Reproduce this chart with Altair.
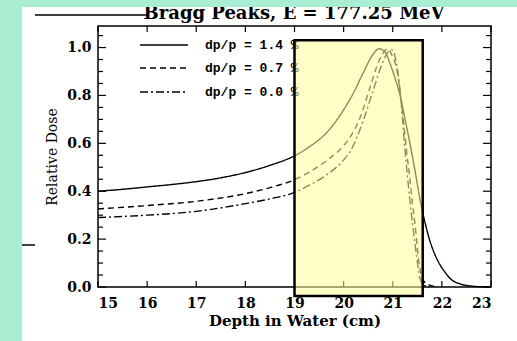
import altair as alt
import pandas as pd

# ---- data ----
x_solid = [15, 15.5, 16, 16.5, 17, 17.5, 18, 18.5, 19, 19.3, 19.7, 20.0, 20.2, 20.4, 20.6, 20.72,
           20.85, 20.95, 21.05, 21.15, 21.25, 21.35, 21.45, 21.56, 21.65, 21.76, 21.87, 21.97,
           22.07, 22.17, 22.37, 22.6, 22.8, 23]
y_solid = [0.40, 0.408, 0.418, 0.428, 0.44, 0.456, 0.478, 0.508, 0.548, 0.585, 0.655, 0.74, 0.81, 0.895, 0.972, 0.995,
           0.98, 0.93, 0.87, 0.80, 0.70, 0.60, 0.49, 0.36, 0.275, 0.19, 0.13, 0.09,
           0.06, 0.035, 0.013, 0.004, 0.001, 0.0]

x_dash = [15, 16, 17, 18, 18.5, 19, 19.3, 19.7, 20.0, 20.13, 20.34, 20.54, 20.71, 20.8, 20.89,
          20.98, 21.09, 21.16, 21.22, 21.28, 21.35, 21.40, 21.46, 21.52, 21.58, 21.65, 21.75, 21.9]
y_dash = [0.326, 0.34, 0.358, 0.39, 0.415, 0.448, 0.48, 0.535, 0.59, 0.625, 0.71, 0.835, 0.94, 0.975, 0.995,
          0.97, 0.90, 0.80, 0.69, 0.57, 0.45, 0.35, 0.25, 0.125, 0.05, 0.02, 0.008, 0.0]

x_dd = [15, 16, 17, 18, 18.5, 19, 19.3, 19.7, 20.0, 20.13, 20.4, 20.6, 20.78, 20.92, 20.99,
        21.06, 21.15, 21.25, 21.35, 21.46, 21.55, 21.62, 21.75]
y_dd = [0.29, 0.30, 0.316, 0.348, 0.368, 0.395, 0.425, 0.475, 0.53, 0.565, 0.695, 0.82, 0.93, 0.985, 0.99,
        0.95, 0.82, 0.57, 0.36, 0.17, 0.04, 0.01, 0.0]

series_names = ["dp/p = 1.4", "dp/p = 0.7", "dp/p = 0.0"]
legend_labels = ["dp/p = 1.4 %", "dp/p = 0.7 %", "dp/p = 0.0 %"]

x_ticks = [15, 16, 17, 18, 19, 20, 21, 22, 23]
y_major = [0.0, 0.2, 0.4, 0.6, 0.8, 1.0]
y_minor = [0.05, 0.1, 0.15, 0.25, 0.3, 0.35, 0.45, 0.5, 0.55, 0.65, 0.7, 0.75, 0.85, 0.9, 0.95, 1.05]

hl_x = [19.0, 21.61]
hl_y = [-0.038, 1.03]

title_text = "Bragg Peaks, E = 177.25 MeV"
x_title = "Depth in Water (cm)"
y_title = "Relative Dose"

W, H = 393, 261
XS = alt.Scale(domain=[15, 23], nice=False, zero=False)
YS = alt.Scale(domain=[0, 1.09], nice=False, zero=False)
SERIF = "DejaVu Serif"

XAX = alt.Axis(values=x_ticks, ticks=False, domain=False, grid=False, format="d",
               labelFont=SERIF, labelFontWeight="bold", labelFontSize=14, labelColor="black",
               labelPadding=9, titleFont=SERIF, titleFontWeight="bold", titleFontSize=15,
               titleColor="black", titlePadding=3)
YAX = alt.Axis(values=y_major, ticks=False, domain=False, grid=False, format=".1f",
               labelFont=SERIF, labelFontWeight="bold", labelFontSize=14, labelColor="black",
               labelPadding=7, titleFont=SERIF, titleFontWeight="normal", titleFontSize=14,
               titleColor="black", titlePadding=7)

rows = []
for name, xs, ys in [(series_names[0], x_solid, y_solid),
                     (series_names[1], x_dash, y_dash),
                     (series_names[2], x_dd, y_dd)]:
    for a, b in zip(xs, ys):
        rows.append({"series": name, "x": a, "y": b})
df = pd.DataFrame(rows)

lines = alt.Chart(df).mark_line(color="black", strokeWidth=1.4, interpolate="monotone").encode(
    x=alt.X("x:Q", scale=XS, title=x_title, axis=XAX),
    y=alt.Y("y:Q", scale=YS, title=y_title, axis=YAX),
    detail="series:N",
    strokeDash=alt.StrokeDash("series:N", scale=alt.Scale(domain=series_names,
                                                           range=[[1, 0], [6, 4], [8, 3, 2, 3]]),
                              legend=None),
)

one = pd.DataFrame({"a": [0]})
dashes = [[1, 0], [6, 4], [8, 3, 2, 3]]
legend_y = [19, 42, 66]
legend_layers = []
for lab, dsh, ly in zip(legend_labels, dashes, legend_y):
    legend_layers.append(alt.Chart(one).mark_rule(color="black", strokeWidth=1.3, strokeDash=dsh).encode(
        x=alt.value(42), x2=alt.value(90), y=alt.value(ly)))
    legend_layers.append(alt.Chart(one).mark_text(align="left", baseline="middle", font="Liberation Mono",
                                                  fontWeight="bold", fontSize=13, color="black").encode(
        x=alt.value(107), y=alt.value(ly), text=alt.value(lab)))

xt = pd.DataFrame({"t": x_ticks})
ymaj = pd.DataFrame({"t": y_major})
ymin = pd.DataFrame({"t": y_minor})


def xenc():
    return alt.X("t:Q", scale=XS, title=x_title, axis=XAX)


def yenc():
    return alt.Y("t:Q", scale=YS, title=y_title, axis=YAX)


tick_layers = [
    alt.Chart(xt).mark_rule(color="black", strokeWidth=1.2).encode(
        x=xenc(), y=alt.value(H), y2=alt.value(H - 6)),
    alt.Chart(xt).mark_rule(color="black", strokeWidth=1.2).encode(
        x=xenc(), y=alt.value(0), y2=alt.value(6)),
    alt.Chart(ymaj).mark_rule(color="black", strokeWidth=1.2).encode(
        y=yenc(), x=alt.value(0), x2=alt.value(8)),
    alt.Chart(ymaj).mark_rule(color="black", strokeWidth=1.2).encode(
        y=yenc(), x=alt.value(W), x2=alt.value(W - 8)),
    alt.Chart(ymin).mark_rule(color="black", strokeWidth=1.2).encode(
        y=yenc(), x=alt.value(0), x2=alt.value(5)),
    alt.Chart(ymin).mark_rule(color="black", strokeWidth=1.2).encode(
        y=yenc(), x=alt.value(W), x2=alt.value(W - 5)),
]

hl = pd.DataFrame({"x1": [hl_x[0]], "x2": [hl_x[1]], "y1": [hl_y[0]], "y2": [hl_y[1]]})
highlight = alt.Chart(hl).mark_rect(fill="#FFFF99", fillOpacity=0.55, stroke="black",
                                    strokeWidth=2.5, strokeOpacity=1).encode(
    x=alt.X("x1:Q", scale=XS, title=x_title, axis=XAX), x2="x2:Q",
    y=alt.Y("y1:Q", scale=YS, title=y_title, axis=YAX), y2="y2:Q")

title = alt.Chart(one).mark_text(align="center", baseline="alphabetic", font=SERIF, fontSize=18,
                                 fontWeight="bold", color="black").encode(
    x=alt.value(196), y=alt.value(-7), text=alt.value(title_text))
title_line = alt.Chart(one).mark_rule(color="black", strokeWidth=1.5).encode(
    x=alt.value(-63), x2=alt.value(49), y=alt.value(-11))
side_mark = alt.Chart(one).mark_rule(color="black", strokeWidth=1.5).encode(
    x=alt.value(-76), x2=alt.value(-63), y=alt.value(219))

GREEN = "#A9EED2"
green_left = alt.Chart(one).mark_rect(color=GREEN).encode(
    x=alt.value(-98), x2=alt.value(-76), y=alt.value(-26), y2=alt.value(315))
green_top = alt.Chart(one).mark_rect(color=GREEN).encode(
    x=alt.value(-98), x2=alt.value(419), y=alt.value(-26), y2=alt.value(-19))

chart = alt.layer(
    lines, *legend_layers, *tick_layers, highlight, title, title_line, side_mark, green_left, green_top
).properties(
    width=W, height=H, autosize="none",
    padding={"left": 98, "top": 26, "right": 26, "bottom": 54},
    background="white",
).configure_view(stroke="black", strokeWidth=1.5)

chart.save("out.html", embed_options={"renderer": "svg", "actions": False})
